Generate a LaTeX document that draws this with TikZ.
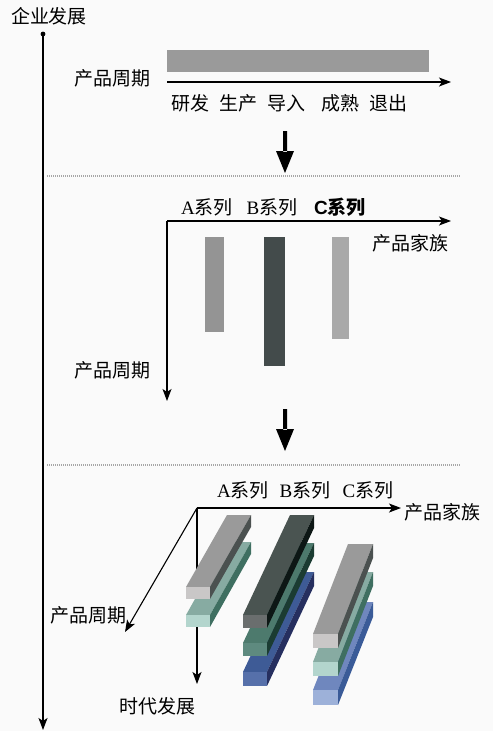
\documentclass[tikz,border=0pt]{standalone}
\usepackage{fontspec}
\setmainfont{Noto Sans CJK SC}
\newfontfamily\lat{Liberation Serif}
\newfontfamily\latsans{Liberation Sans}
\usetikzlibrary{arrows.meta}
\definecolor{grayTop}{HTML}{9A9A9A}
\definecolor{grayFront}{HTML}{C9C7C7}
\definecolor{graySide}{HTML}{4B5150}
\definecolor{darkTop}{HTML}{4A5451}
\definecolor{darkFront}{HTML}{6A6E6E}
\definecolor{darkSide}{HTML}{0D1715}
\definecolor{tealTop}{HTML}{87ABA2}
\definecolor{tealFront}{HTML}{B3D5CD}
\definecolor{tealSide}{HTML}{3F6F61}
\definecolor{tealBTop}{HTML}{4D7A6D}
\definecolor{tealBFront}{HTML}{5E8A7F}
\definecolor{tealBSide}{HTML}{1B3C32}
\definecolor{blueBTop}{HTML}{3E5B96}
\definecolor{blueBFront}{HTML}{5670AA}
\definecolor{blueBSide}{HTML}{262F5F}
\definecolor{blueCTop}{HTML}{6F87BE}
\definecolor{blueCFront}{HTML}{9DB1D9}
\definecolor{blueCSide}{HTML}{3A5B98}
\definecolor{bgcol}{HTML}{FAFAFA}
\definecolor{barA}{HTML}{949494}
\definecolor{barB}{HTML}{434B4B}
\definecolor{barC}{HTML}{A9A9A9}
\newcommand\prismbar[9]{%
  \fill[#7] (#1,#2) -- ++(#3,0) -- ++(#5,#6) -- ++(-#3,0) -- cycle;
  \fill[#9] (#1+#3,#2) -- ++(0,#4) -- ++(#5,#6) -- ++(0,-#4) -- cycle;
  \fill[#8] (#1,#2) rectangle ++(#3,#4);
}
\newcommand\bigarrow[2]{%
  \fill[black] (#1-2,#2) rectangle (#1+2,#2+21)
    (#1-9,#2+20) -- (#1+9,#2+20) -- (#1,#2+42) -- cycle;
}
\begin{document}
\begin{tikzpicture}[x=1pt,y=-1pt,
  lbl/.style={inner sep=0pt, font=\fontsize{19}{19}\selectfont},
  axis/.style={line width=1.1pt, -{Stealth[length=12pt,width=9pt,inset=3pt]}},
  sep/.style={gray!70, line width=1.2pt, dash pattern=on 1pt off 1pt}]
\fill[bgcol] (0,0) rectangle (493,731);
\useasboundingbox (0,0) rectangle (493,731);

% main axis
\node[lbl] (title) at (49,16) {企业发展};
\coordinate (m0) at (43,34);
\coordinate (m1) at (43,730);
\fill (m0) circle (2.4pt);
\draw[axis, line width=1.4pt] (m0) -- (m1);

% ---------- top section ----------
\fill[grayTop] (167,50) rectangle (429,72);
\coordinate (t0) at (167,82);
\coordinate (t1) at (451,82);
\draw[axis] (t0) -- (t1);
\node[lbl] (tpc) at (112,78) {产品周期};
\node[lbl] (s1) at (190.5,103) {研发};
\node[lbl] (s2) at (238.5,103) {生产};
\node[lbl] (s3) at (286.5,103) {导入};
\node[lbl] (s4) at (340,103) {成熟};
\node[lbl] (s5) at (388.5,103) {退出};
\bigarrow{285}{131}
\draw[sep] (47,176) -- (460,176);

% ---------- middle section ----------
\coordinate (o2) at (167,221);
\coordinate (h2) at (451,221);
\coordinate (v2) at (167,401);
\draw[axis] (o2) -- (h2);
\draw[axis] (o2) -- (v2);
\node[lbl] (ma) at (207,207) {{\lat A}系列};
\node[lbl] (mb) at (272,207) {{\lat B}系列};
\node[lbl] (mc) at (340,207) {\bfseries{\latsans C}系列};
\node[lbl] (mfam) at (410,243) {产品家族};
\node[lbl] (mpc) at (112,370) {产品周期};
\fill[barA] (205,237) rectangle (224,332);
\fill[barB] (264,237) rectangle (285,366);
\fill[barC] (332,237) rectangle (349,339);
\bigarrow{285}{409}
\draw[sep] (47,465) -- (460,465);

% ---------- bottom section ----------
\coordinate (o3) at (197,508);
\coordinate (h3) at (401,508);
\coordinate (v3) at (197,684);
\coordinate (d3) at (125,632);
\draw[axis] (o3) -- (h3);
\draw[axis] (o3) -- (v3);
\draw[axis] (o3) -- (d3);
\node[lbl] (ba) at (243,490) {{\lat A}系列};
\node[lbl] (bb) at (305,490) {{\lat B}系列};
\node[lbl] (bc) at (368,490) {{\lat C}系列};
\node[lbl] (bfam) at (442,512) {产品家族};
\node[lbl] (bt) at (157,706) {时代发展};
\node[lbl] (bpc) at (88,615) {产品周期};

% A family
\prismbar{186}{615}{24}{12}{41}{-73}{tealTop}{tealFront}{tealSide}
\prismbar{186}{587}{24}{12}{41}{-72}{grayTop}{grayFront}{graySide}
% B family
\prismbar{243}{672}{24}{14}{47}{-100}{blueBTop}{blueBFront}{blueBSide}
\prismbar{243}{643}{24}{13}{47}{-100}{tealBTop}{tealBFront}{tealBSide}
\prismbar{243}{615}{24}{13}{47}{-100}{darkTop}{darkFront}{darkSide}
% C family
\prismbar{313}{690}{25}{15}{35}{-88}{blueCTop}{blueCFront}{blueCSide}
\prismbar{313}{662}{25}{14}{35}{-90}{tealTop}{tealFront}{tealSide}
\prismbar{313}{634}{25}{14}{35}{-90}{grayTop}{grayFront}{graySide}
\end{tikzpicture}
\end{document}
